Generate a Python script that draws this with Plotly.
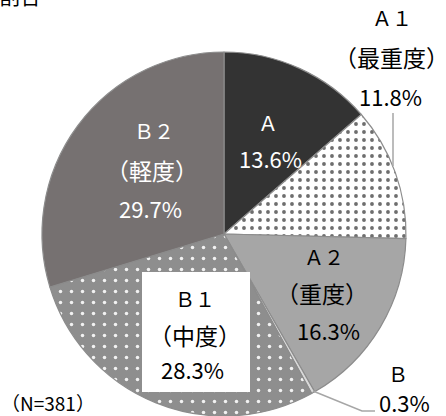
import plotly.graph_objects as go

# data
codes = ["Ａ", "Ａ１", "Ａ２", "Ｂ", "Ｂ１", "Ｂ２"]
grades = ["", "（最重度）", "（重度）", "", "（中度）", "（軽度）"]
shares = [13.6, 11.8, 16.3, 0.3, 28.3, 29.7]
colors = ["#333333", "#ffffff", "#a6a6a6", "#d9d9d9", "#8e8e8e", "#767171"]
pattern_shapes = ["", ".", "", "", ".", ""]
pattern_fg = ["#333333", "#6e6e6e", "#a6a6a6", "#d9d9d9", "#f2f2f2", "#767171"]
sample_note = "（N=381）"
title_text = "割合"

W, H = 446, 416
CJK = "Noto Sans CJK JP"

def px(x):
    return x / W

def py(y):
    return 1 - y / H

fig = go.Figure(go.Pie(
    labels=codes,
    values=shares,
    sort=False,
    direction="clockwise",
    rotation=0,
    textinfo="none",
    hoverinfo="label+percent",
    marker=dict(
        colors=colors,
        line=dict(color="#8c8c8c", width=1.2),
        pattern=dict(
            shape=pattern_shapes,
            fgcolor=pattern_fg,
            bgcolor=colors,
            size=[8, 8, 8, 8, 11, 8],
            solidity=[0.2, 0.18, 0.2, 0.2, 0.08, 0.2],
            fillmode="replace",
        ),
    ),
    domain=dict(x=[px(42), px(406)], y=[0, py(52)]),
    showlegend=False,
))

# label layout: (slice index, part, x px, y px, color)
label_layout = [
    (0, "code", 268, 122, "white"), (0, "pct", 270, 158, "white"),
    (1, "code", 392, 18, "black"), (1, "grade", 391, 57, "black"), (1, "pct", 390, 96, "black"),
    (2, "code", 324, 256, "black"), (2, "grade", 322, 293, "black"), (2, "pct", 328, 330, "black"),
    (3, "code", 398, 373, "black"), (3, "pct", 404, 402, "black"),
    (4, "code", 195, 298, "black"), (4, "grade", 195, 335, "black"), (4, "pct", 192, 369, "black"),
    (5, "code", 154, 130, "white"), (5, "grade", 152, 170, "white"), (5, "pct", 150, 208, "white"),
]

SIZES = {"code": 20, "grade": 23, "pct": 22}

annotations = []
for i, part, x, y, c in label_layout:
    if part == "code":
        t = codes[i]
    elif part == "grade":
        t = grades[i]
    else:
        t = f"{shares[i]:.1f}%"
    annotations.append(dict(
        text=t, x=px(x), y=py(y), xref="paper", yref="paper",
        xanchor="center", yanchor="middle", showarrow=False,
        font=dict(family=CJK, size=SIZES[part], color=c),
    ))

annotations.append(dict(
    text=sample_note, x=px(48), y=py(402), xref="paper", yref="paper",
    xanchor="center", yanchor="middle", showarrow=False,
    font=dict(family=CJK, size=19, color="black"),
))
annotations.append(dict(
    text=title_text, x=px(-3), y=py(-5), xref="paper", yref="paper",
    xanchor="left", yanchor="middle", showarrow=False,
    font=dict(family=CJK, size=21, color="black"),
))

shapes = [
    # white box behind B1 label
    dict(type="rect", xref="paper", yref="paper",
         x0=px(142), x1=px(250), y0=py(392), y1=py(272),
         fillcolor="white", line=dict(width=0), layer="above"),
    # A1 leader
    dict(type="line", xref="paper", yref="paper",
         x0=px(393), x1=px(393), y0=py(113), y1=py(166),
         line=dict(color="#a6a6a6", width=1.5), layer="above"),
    # B leader
    dict(type="path", xref="paper", yref="paper",
         path=f"M {px(313)} {py(391)} L {px(362)} {py(411)} L {px(375)} {py(411)}",
         line=dict(color="#a6a6a6", width=1.5), layer="above"),
]

fig.update_layout(
    width=W, height=H,
    margin=dict(l=0, r=0, t=0, b=0),
    paper_bgcolor="white", plot_bgcolor="white",
    annotations=annotations, shapes=shapes,
)

fig.write_html(
    "out.html",
    config={"displayModeBar": False},
    post_script="document.body.style.margin='0';document.body.style.padding='0';document.body.style.overflow='hidden';",
)
